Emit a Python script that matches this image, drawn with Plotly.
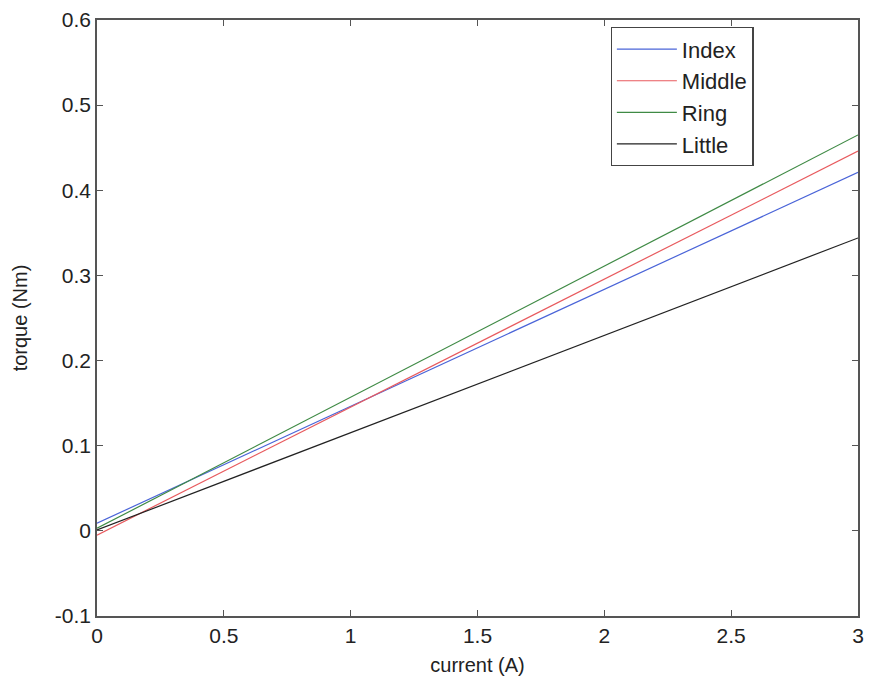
import plotly.graph_objects as go

current = [0, 3]
index_t = [0.009, 0.421]
middle_t = [-0.005, 0.446]
ring_t = [0.003, 0.465]
little_t = [0.001, 0.344]

series_names = ["Index", "Middle", "Ring", "Little"]
series_vals = [index_t, middle_t, ring_t, little_t]
colors = ["#4a64d8", "#e85a5e", "#3f8a45", "#222222"]

x_ticks = [0, 0.5, 1, 1.5, 2, 2.5, 3]
x_ticktext = ["0", "0.5", "1", "1.5", "2", "2.5", "3"]
y_ticks = [-0.1, 0, 0.1, 0.2, 0.3, 0.4, 0.5, 0.6]
y_ticktext = ["-0.1", "0", "0.1", "0.2", "0.3", "0.4", "0.5", "0.6"]

fig = go.Figure()
for name, vals, c in zip(series_names, series_vals, colors):
    fig.add_trace(go.Scatter(x=current, y=vals, mode="lines", name=name,
                             line=dict(color=c, width=1.2)))

axis_common = dict(showgrid=False, zeroline=False, showline=True, mirror="ticks",
                   linecolor="#555555", linewidth=1.5, ticks="inside", ticklen=6,
                   tickcolor="#555555", tickfont=dict(size=21, color="#222222"),
                   automargin=False)

fig.update_layout(
    width=870, height=683,
    margin=dict(l=97, r=12, t=20, b=67),
    paper_bgcolor="white", plot_bgcolor="white",
    font=dict(family="Liberation Sans, Arial, sans-serif", color="#222222"),
    xaxis=dict(range=[0, 3], tickvals=x_ticks, ticktext=x_ticktext,
               title=dict(text="current (A)", font=dict(size=20), standoff=12), **axis_common),
    yaxis=dict(range=[-0.1, 0.6], tickvals=y_ticks, ticktext=y_ticktext,
               title=dict(text="torque (Nm)", font=dict(size=20), standoff=22), **axis_common),
    legend=dict(x=0.675, y=0.988, xanchor="left", yanchor="top",
                bordercolor="#444444", borderwidth=1.2, bgcolor="white",
                font=dict(size=22), tracegroupgap=0, itemwidth=60,
                entrywidth=118, entrywidthmode="pixels"),
    showlegend=True,
)

fig.write_html("out.html")
